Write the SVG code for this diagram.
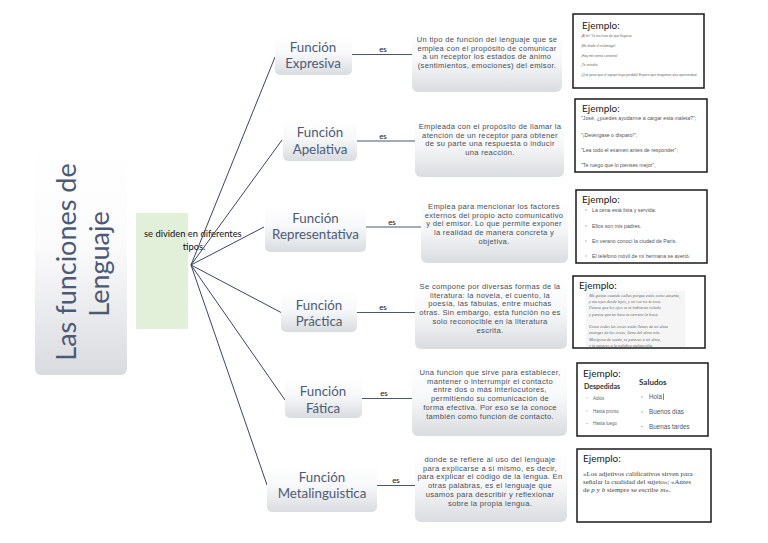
<svg xmlns="http://www.w3.org/2000/svg" width="768" height="543" viewBox="0 0 768 543">
<defs>
<linearGradient id="gBox" x1="0" y1="0" x2="0" y2="1">
<stop offset="0" stop-color="#ffffff"/>
<stop offset="0.45" stop-color="#f7f8f9"/>
<stop offset="1" stop-color="#d9dce0"/>
</linearGradient>
<linearGradient id="gTitle" x1="0" y1="0" x2="0" y2="1">
<stop offset="0" stop-color="#ffffff"/>
<stop offset="0.45" stop-color="#fbfbfc"/>
<stop offset="1" stop-color="#d9dbdf"/>
</linearGradient>
<style>
.box{fill:url(#gBox);stroke:none}
.fn{font-family:Lato,"Open Sans",sans-serif;font-size:13.3px;fill:#4d5b76;text-anchor:middle}
.ds{font-family:"Liberation Sans",Arial,sans-serif;font-size:7.6px;letter-spacing:0.3px;fill:#4a4f57;text-anchor:middle}
.es{font-family:Lato,"Open Sans",sans-serif;font-size:8px;fill:#111;text-anchor:middle}
.hub{stroke:#3a4663;stroke-width:1;fill:none}
.con{stroke:#4b5670;stroke-width:1.2;fill:none}
.ex{fill:#fff;stroke:#1a1a1a;stroke-width:1.5}
.ej{font-family:Lato,"Open Sans",sans-serif;font-size:10px;fill:#1a1a1a}
.t1{font-family:"Liberation Sans",Arial,sans-serif;font-size:3.3px;fill:#666}
.t2{font-family:"Liberation Sans",Arial,sans-serif;font-size:5.2px;fill:#555}
.t4{font-family:"Liberation Serif",serif;font-style:italic;font-size:4.3px;fill:#666}
.t5s{font-family:"Liberation Sans",Arial,sans-serif;font-size:4.5px;fill:#666}
.t5b{font-family:"Liberation Sans",Arial,sans-serif;font-size:6.3px;fill:#555}
.t6{font-family:"Liberation Serif",serif;font-size:7px;fill:#444}
.bul{fill:#999}
</style>
</defs>
<rect width="768" height="543" fill="#ffffff"/>

<g id="title">
<rect x="35" y="142" width="92" height="233" rx="6" fill="url(#gTitle)"/>
<text transform="translate(76,262) rotate(-90)" font-family="Lato,'Open Sans',sans-serif" font-size="27" fill="#4b5a76" text-anchor="middle">Las funciones de</text>
<text transform="translate(109,264) rotate(-90)" font-family="Lato,'Open Sans',sans-serif" font-size="27" fill="#4b5a76" text-anchor="middle">Lenguaje</text>
</g>

<g id="divide">
<rect x="136" y="213" width="52" height="116" fill="#e2efd9"/>
<text x="144" y="237" font-family="Lato,'Open Sans',sans-serif" font-size="9.4" fill="#111">se dividen en diferentes</text>
<text x="194" y="250" font-family="Lato,'Open Sans',sans-serif" font-size="9.4" fill="#111" text-anchor="middle">tipos.</text>
</g>

<g id="connectors">
<line class="hub" x1="191" y1="265" x2="275" y2="57"/>
<line class="hub" x1="191" y1="265" x2="282" y2="140"/>
<line class="hub" x1="191" y1="265" x2="264" y2="227"/>
<line class="hub" x1="191" y1="265" x2="282" y2="313"/>
<line class="hub" x1="191" y1="265" x2="285" y2="400"/>
<line class="hub" x1="191" y1="265" x2="267" y2="485"/>
<line class="con" x1="352" y1="54.5" x2="412" y2="54.5"/>
<line class="con" x1="357" y1="141" x2="415" y2="141"/>
<line class="con" x1="366" y1="227" x2="421" y2="227"/>
<line class="con" x1="357" y1="312.5" x2="416" y2="312.5"/>
<line class="con" x1="362" y1="398.5" x2="415" y2="398.5"/>
<line class="con" x1="377" y1="485.5" x2="415" y2="485.5"/>
<text class="es" x="383" y="52">es</text>
<text class="es" x="383" y="139">es</text>
<text class="es" x="392" y="225">es</text>
<text class="es" x="383" y="310">es</text>
<text class="es" x="384" y="396">es</text>
<text class="es" x="396" y="483">es</text>
</g>

<g id="fn-expresiva">
<rect class="box" x="275" y="36" width="77" height="39" rx="5"/>
<text class="fn" x="313" y="52">Función</text>
<text class="fn" x="313" y="68">Expresiva</text>
</g>
<g id="fn-apelativa">
<rect class="box" x="283" y="120" width="74" height="41" rx="5"/>
<text class="fn" x="320" y="137">Función</text>
<text class="fn" x="320" y="154">Apelativa</text>
</g>
<g id="fn-representativa">
<rect class="box" x="265" y="205" width="101" height="47" rx="5"/>
<text class="fn" x="315.5" y="223">Función</text>
<text class="fn" x="315.5" y="239">Representativa</text>
</g>
<g id="fn-practica">
<rect class="box" x="281" y="291" width="76" height="41" rx="5"/>
<text class="fn" x="319" y="310">Función</text>
<text class="fn" x="319" y="326">Práctica</text>
</g>
<g id="fn-fatica">
<rect class="box" x="285" y="377" width="77" height="41" rx="5"/>
<text class="fn" x="323" y="396">Función</text>
<text class="fn" x="323" y="413">Fática</text>
</g>
<g id="fn-metalinguistica">
<rect class="box" x="267" y="464" width="110" height="48" rx="5"/>
<text class="fn" x="322" y="482">Función</text>
<text class="fn" x="322" y="498">Metalinguistica</text>
</g>

<g id="desc-expresiva">
<rect class="box" x="412" y="33" width="150" height="59" rx="6"/>
<text class="ds" x="487" y="42">Un tipo de función del lenguaje que se</text>
<text class="ds" x="487" y="50.7">emplea con el propósito de comunicar</text>
<text class="ds" x="487" y="59.4">a un receptor los estados de ánimo</text>
<text class="ds" x="487" y="68.1">(sentimientos, emociones) del emisor.</text>
</g>
<g id="desc-apelativa">
<rect class="box" x="415" y="117" width="149" height="60" rx="6"/>
<text class="ds" x="490" y="129">Empleada con el propósito de llamar la</text>
<text class="ds" x="490" y="137.7">atención de un receptor para obtener</text>
<text class="ds" x="490" y="146.4">de su parte una respuesta o inducir</text>
<text class="ds" x="490" y="155.1">una reacción.</text>
</g>
<g id="desc-representativa">
<rect class="box" x="421" y="198" width="147" height="65" rx="6"/>
<text class="ds" x="494" y="209">Emplea para mencionar los factores</text>
<text class="ds" x="494" y="217.7">externos del propio acto comunicativo</text>
<text class="ds" x="494" y="226.4">y del emisor. Lo que permite exponer</text>
<text class="ds" x="494" y="235.1">la realidad de manera concreta y</text>
<text class="ds" x="494" y="243.8">objetiva.</text>
</g>
<g id="desc-practica">
<rect class="box" x="415" y="280" width="152" height="69" rx="6"/>
<text class="ds" x="490" y="289">Se compone por diversas formas de la</text>
<text class="ds" x="490" y="297.7">literatura: la novela, el cuento, la</text>
<text class="ds" x="490" y="306.4">poesía, las fábulas, entre muchas</text>
<text class="ds" x="490" y="315.1">otras. Sin embargo, esta función no es</text>
<text class="ds" x="490" y="323.8">solo reconocible en la literatura</text>
<text class="ds" x="490" y="332.5">escrita.</text>
</g>
<g id="desc-fatica">
<rect class="box" x="412" y="365" width="155" height="71" rx="6"/>
<text class="ds" x="490" y="375">Una funcion que sirve para establecer,</text>
<text class="ds" x="490" y="383.7">mantener o interrumpir el contacto</text>
<text class="ds" x="490" y="392.4">entre dos o más interlocutores,</text>
<text class="ds" x="490" y="401.1">permitiendo su comunicación de</text>
<text class="ds" x="490" y="409.8">forma efectiva. Por eso se la conoce</text>
<text class="ds" x="490" y="418.5">también como función de contacto.</text>
</g>
<g id="desc-metalinguistica">
<rect class="box" x="415" y="452" width="152" height="70" rx="6"/>
<text class="ds" x="490" y="462">donde se refiere al uso del lenguaje</text>
<text class="ds" x="490" y="470.7">para explicarse a sí mismo, es decir,</text>
<text class="ds" x="490" y="479.4">para explicar el código de la lengua. En</text>
<text class="ds" x="490" y="488.1">otras palabras, es el lenguaje que</text>
<text class="ds" x="490" y="496.8">usamos para describir y reflexionar</text>
<text class="ds" x="490" y="505.5">sobre la propia lengua.</text>
</g>

<g id="ex-expresiva">
<rect class="ex" x="573" y="14" width="131" height="74"/>
<text class="ej" x="582" y="29">Ejemplo:</text>
<text class="t1" x="581" y="37">¡Al fin! Ya era hora de que llegaras</text>
<text class="t1" x="581" y="47">¡Me duele el estómago!</text>
<text class="t1" x="581" y="57">¡Hoy me siento contento!</text>
<text class="t1" x="581" y="66">¡Te extraño.</text>
<text class="t1" x="581" y="76">¡Qué pena que el equipo haya perdido! Espero que tengamos otra oportunidad.</text>
</g>
<g id="ex-apelativa">
<rect class="ex" x="575" y="99" width="132" height="73"/>
<text class="ej" x="582" y="112">Ejemplo:</text>
<text class="t2" x="581" y="120">"José, ¿puedes ayudarme a cargar esta maleta?";</text>
<text class="t2" x="581" y="137">"¡Deténgase o disparo!";</text>
<text class="t2" x="581" y="152">"Lea todo el examen antes de responder";</text>
<text class="t2" x="581" y="167">"Te ruego que lo pienses mejor",</text>
</g>
<g id="ex-representativa">
<rect class="ex" x="576" y="190" width="131" height="73"/>
<text class="ej" x="582" y="203">Ejemplo:</text>
<circle class="bul" cx="586" cy="210" r="0.7"/>
<text class="t2" x="592" y="212">La cena está lista y servida.</text>
<circle class="bul" cx="586" cy="226" r="0.7"/>
<text class="t2" x="592" y="228">Ellos son mis padres.</text>
<circle class="bul" cx="586" cy="241" r="0.7"/>
<text class="t2" x="592" y="243">En verano conocí la ciudad de París.</text>
<circle class="bul" cx="586" cy="256" r="0.7"/>
<text class="t2" x="592" y="258">El teléfono móvil de mi hermana se averió.</text>
</g>
<g id="ex-practica">
<rect class="ex" x="573" y="276" width="132" height="72"/>
<rect x="586" y="291" width="99" height="56" fill="#f5f5f5"/>
<text class="ej" x="579" y="289">Ejemplo:</text>
<text class="t4" x="589" y="297">Me gustas cuando callas porque estás como ausente,</text>
<text class="t4" x="589" y="303">y me oyes desde lejos, y mi voz no te toca.</text>
<text class="t4" x="589" y="309">Parece que los ojos se te hubieran volado</text>
<text class="t4" x="589" y="315.5">y parece que un beso te cerrara la boca.</text>
<text class="t4" x="589" y="328">Como todas las cosas están llenas de mi alma</text>
<text class="t4" x="589" y="334">emerges de las cosas, llena del alma mía.</text>
<text class="t4" x="589" y="340.5">Mariposa de sueño, te pareces a mi alma,</text>
<text class="t4" x="589" y="346.5">y te pareces a la palabra melancolía.</text>
</g>
<g id="ex-fatica">
<rect class="ex" x="577" y="363" width="131" height="73"/>
<text class="ej" x="583" y="377">Ejemplo:</text>
<text x="584" y="389" font-family="Lato,'Open Sans',sans-serif" font-size="7" font-weight="bold" fill="#333">Despedidas</text>
<text x="639" y="385" font-family="Lato,'Open Sans',sans-serif" font-size="8" font-weight="bold" fill="#333">Saludos</text>
<circle class="bul" cx="587" cy="398" r="0.6"/>
<text class="t5s" x="593" y="399.5">Adiós</text>
<circle class="bul" cx="587" cy="411" r="0.6"/>
<text class="t5s" x="593" y="412.5">Hasta pronto</text>
<circle class="bul" cx="587" cy="423.5" r="0.6"/>
<text class="t5s" x="593" y="425">Hasta luego</text>
<circle class="bul" cx="642" cy="397" r="0.7"/>
<text class="t5b" x="649" y="399">Hola</text>
<line x1="663.5" y1="393.5" x2="663.5" y2="400" stroke="#333" stroke-width="0.6"/>
<circle class="bul" cx="642" cy="412" r="0.7"/>
<text class="t5b" x="649" y="414">Buenos días</text>
<circle class="bul" cx="642" cy="426.5" r="0.7"/>
<text class="t5b" x="649" y="428.5">Buenas tardes</text>
</g>
<g id="ex-metalinguistica">
<rect class="ex" x="577" y="449" width="134" height="73"/>
<text class="ej" x="583" y="462">Ejemplo:</text>
<text class="t6" x="583" y="476">«Los adjetivos calificativos sirven para</text>
<text class="t6" x="583" y="484">señalar la cualidad del sujeto»; «Antes</text>
<text class="t6" x="583" y="492">de <tspan font-style="italic">p</tspan> y <tspan font-style="italic">b</tspan> siempre se escribe <tspan font-style="italic">m</tspan>».</text>
</g>
</svg>
